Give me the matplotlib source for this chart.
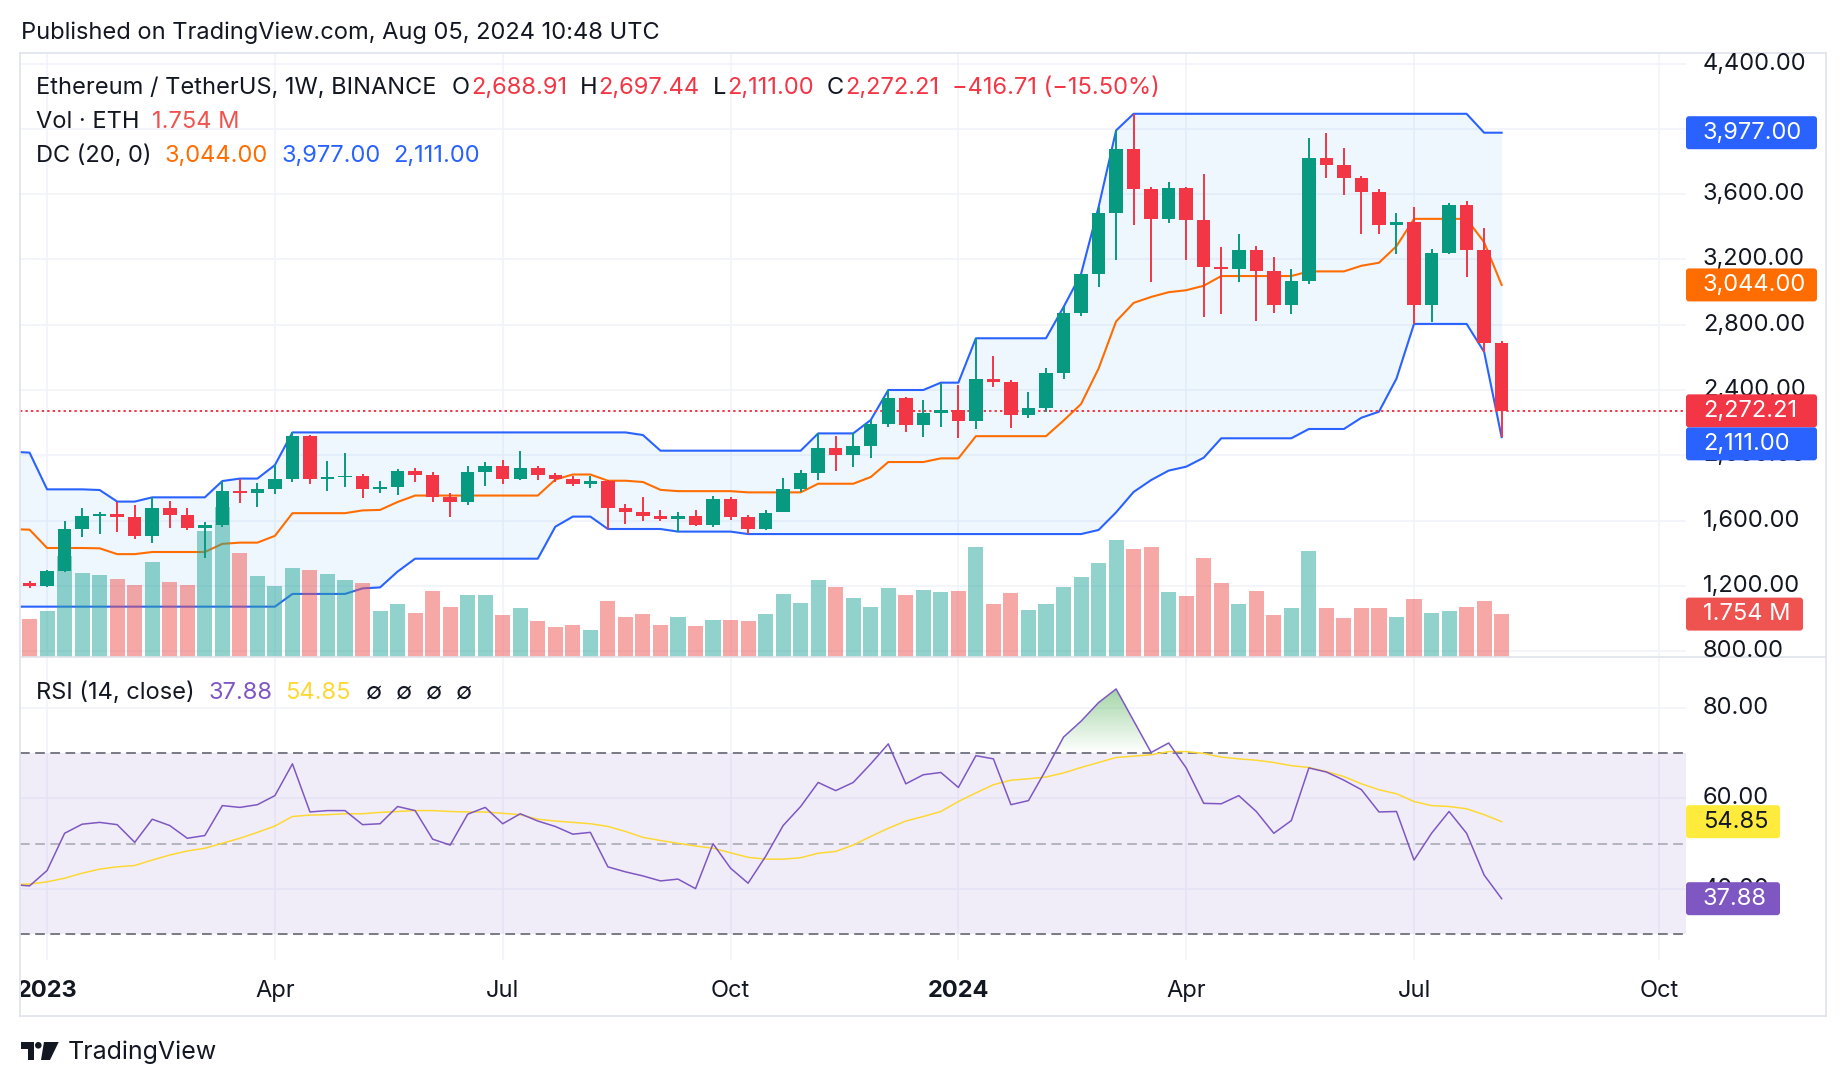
#! /usr/bin/env python3

import numpy as np
import pandas as pd
import matplotlib
matplotlib.use('Agg')
import matplotlib.pyplot as plt
from matplotlib import transforms
from matplotlib.patches import Polygon, Circle, FancyBboxPatch
from matplotlib.path import Path
from matplotlib.colors import LinearSegmentedColormap

# weekly ETH/USDT candles, first week 2022-12-19 (hidden left of the frame)
week_open = [1168, 1218, 1196, 1290, 1548, 1626, 1640, 1623, 1507, 1675, 1636, 1556, 1575, 1781, 1771, 1793,
             1854, 2118, 1856, 1868, 1872, 1793, 1804, 1905, 1881, 1746, 1715, 1897, 1936, 1854, 1922, 1879,
             1856, 1824, 1842, 1679, 1652, 1628, 1611, 1626, 1575, 1730, 1622, 1550, 1652, 1793, 1889, 2044,
             2004, 2057, 2192, 2351, 2187, 2257, 2275, 2212, 2467, 2449, 2247, 2288, 2502, 2875, 3108, 3486,
             3878, 3635, 3451, 3641, 3444, 3153, 3140, 3258, 3131, 2923, 3068, 3823, 3777, 3702, 3615, 3414,
             3431, 2923, 3241, 3534, 3258, 2688.91]
week_high = [1222, 1229, 1295, 1595, 1675, 1654, 1716, 1693, 1742, 1717, 1677, 1589, 1842, 1857, 1830, 1940,
             2140, 2124, 1965, 2016, 1885, 1840, 1914, 1924, 1899, 1767, 1934, 1958, 1971, 2028, 1936, 1891,
             1873, 1873, 1848, 1701, 1746, 1665, 1654, 1665, 1750, 1744, 1634, 1665, 1863, 1910, 2134, 2118,
             2134, 2216, 2400, 2355, 2339, 2445, 2431, 2717, 2608, 2461, 2388, 2533, 2908, 3111, 3521, 3991,
             4093, 3643, 3674, 3645, 3724, 3276, 3357, 3280, 3214, 3142, 3945, 3977, 3886, 3709, 3632, 3486,
             3521, 3265, 3545, 3556, 3396, 2697.44]
week_low = [1160, 1184, 1190, 1287, 1501, 1519, 1532, 1489, 1464, 1556, 1544, 1368, 1562, 1710, 1685, 1763,
            1838, 1824, 1783, 1803, 1736, 1766, 1756, 1838, 1715, 1624, 1695, 1814, 1824, 1846, 1848, 1834,
            1814, 1801, 1548, 1579, 1597, 1599, 1532, 1568, 1562, 1605, 1517, 1542, 1650, 1775, 1848, 1906,
            1930, 1985, 2175, 2145, 2114, 2175, 2104, 2161, 2416, 2169, 2230, 2267, 2470, 2853, 3033, 3199,
            3411, 3061, 3422, 3199, 2849, 2864, 3061, 2820, 2875, 2864, 3048, 3702, 3597, 3357, 3354, 3236,
            2805, 2816, 3232, 3090, 2634, 2111.00]
week_close = [1218, 1196, 1290, 1548, 1625, 1640, 1623, 1507, 1675, 1636, 1556, 1575, 1781, 1771, 1793, 1854,
              2118, 1856, 1868, 1872, 1793, 1804, 1905, 1881, 1746, 1715, 1897, 1936, 1854, 1922, 1879, 1856,
              1824, 1842, 1679, 1652, 1628, 1611, 1626, 1575, 1730, 1622, 1550, 1648, 1793, 1889, 2044, 2004,
              2057, 2192, 2351, 2187, 2257, 2275, 2212, 2467, 2449, 2247, 2288, 2502, 2875, 3108, 3486, 3878,
              3635, 3451, 3641, 3444, 3153, 3140, 3258, 3131, 2923, 3068, 3823, 3777, 3702, 3615, 3414, 3431,
              2923, 3241, 3534, 3258, 2688.92, 2272.21]
# volume in millions of ETH
volume = [1.50, 1.55, 1.88, 4.15, 3.45, 3.37, 3.20, 2.95, 3.90, 3.08, 2.95, 5.19, 6.18, 4.28, 3.33, 2.91,
          3.66, 3.57, 3.41, 3.16, 3.04, 1.88, 2.17, 1.80, 2.71, 2.04, 2.54, 2.54, 1.71, 2.00, 1.46, 1.22,
          1.30, 1.09, 2.29, 1.63, 1.75, 1.30, 1.63, 1.26, 1.51, 1.51, 1.46, 1.75, 2.58, 2.21, 3.16, 2.87,
          2.42, 2.04, 2.83, 2.54, 2.75, 2.66, 2.71, 4.53, 2.17, 2.62, 1.92, 2.17, 2.87, 3.28, 3.86, 4.82,
          4.45, 4.53, 2.66, 2.50, 4.07, 3.03, 2.17, 2.70, 1.72, 2.00, 4.36, 2.00, 1.59, 2.00, 2.00, 1.63,
          2.38, 1.79, 1.88, 2.04, 2.29, 1.754]
# Donchian channel (20) bands
dc_upper = [2022, 2016, 1791, 1791, 1791, 1787, 1716, 1716, 1742, 1742, 1742, 1742, 1842, 1857, 1857, 1940,
            2140, 2140, 2140, 2140, 2140, 2140, 2140, 2140, 2140, 2140, 2140, 2140, 2140, 2140, 2140, 2140,
            2140, 2140, 2140, 2140, 2124, 2028, 2028, 2028, 2028, 2028, 2028, 2028, 2028, 2028, 2134, 2134,
            2134, 2216, 2400, 2400, 2400, 2445, 2445, 2717, 2717, 2717, 2717, 2717, 2908, 3111, 3521, 3991,
            4093, 4093, 4093, 4093, 4093, 4093, 4093, 4093, 4093, 4093, 4093, 4093, 4093, 4093, 4093, 4093,
            4093, 4093, 4093, 4093, 3977, 3977]
dc_lower = [1072, 1072, 1072, 1072, 1072, 1072, 1072, 1072, 1072, 1072, 1072, 1072, 1072, 1072, 1072, 1072,
            1150, 1150, 1150, 1150, 1184, 1190, 1287, 1366, 1366, 1366, 1366, 1366, 1366, 1366, 1366, 1562,
            1624, 1624, 1548, 1548, 1548, 1548, 1532, 1532, 1532, 1532, 1517, 1517, 1517, 1517, 1517, 1517,
            1517, 1517, 1517, 1517, 1517, 1517, 1517, 1517, 1517, 1517, 1517, 1517, 1517, 1517, 1542, 1650,
            1775, 1848, 1906, 1930, 1985, 2104, 2104, 2104, 2104, 2104, 2161, 2161, 2161, 2230, 2267, 2470,
            2805, 2805, 2805, 2805, 2634, 2111]
rsi = [41.0, 40.7, 44.1, 52.3, 54.3, 54.7, 54.2, 50.3, 55.4, 54.0, 51.2, 51.8, 58.4, 58.0, 58.6, 60.6,
       67.6, 57.0, 57.3, 57.3, 54.2, 54.4, 58.2, 57.3, 51.0, 49.7, 56.5, 58.0, 54.4, 56.6, 55.0, 53.8,
       52.1, 52.5, 44.9, 43.8, 42.9, 41.8, 42.2, 40.1, 50.0, 44.6, 41.3, 47.2, 54.0, 58.2, 63.5, 61.7,
       63.5, 67.6, 72.0, 63.2, 65.2, 65.7, 62.4, 69.4, 68.7, 58.6, 59.5, 66.3, 73.5, 77.0, 81.1, 84.1,
       77.1, 70.1, 72.2, 66.7, 58.9, 58.8, 60.6, 57.1, 52.3, 55.1, 66.7, 65.8, 64.0, 61.9, 57.0, 57.1,
       46.4, 52.3, 57.1, 52.3, 43.1, 37.88]
rsi_ma = [41.0, 41.1, 41.6, 42.4, 43.5, 44.4, 44.9, 45.2, 46.4, 47.5, 48.4, 49.0, 50.1, 51.2, 52.5, 53.9,
          56.0, 56.3, 56.4, 56.6, 56.6, 56.9, 57.1, 57.3, 57.3, 57.1, 57.0, 57.0, 56.7, 56.4, 55.4, 55.0,
          54.7, 54.4, 53.8, 52.7, 51.4, 50.7, 50.1, 49.5, 49.0, 48.0, 47.0, 46.6, 46.6, 46.9, 47.9, 48.3,
          49.7, 51.6, 53.4, 55.0, 56.0, 57.1, 59.3, 61.2, 63.0, 64.0, 64.3, 64.7, 65.6, 66.8, 67.9, 69.0,
          69.3, 69.6, 70.3, 70.3, 69.9, 69.1, 68.7, 68.4, 67.9, 67.2, 66.8, 65.9, 64.8, 63.2, 61.9, 61.0,
          59.3, 58.4, 58.2, 57.7, 56.4, 54.85]

price_ticks = [800, 1200, 1600, 2000, 2400, 2800, 3200, 3600, 4000, 4400]
rsi_ticks = [40, 60, 80]
tick_months = ['2023-01', '2023-04', '2023-07', '2023-10', '2024-01', '2024-04', '2024-07', '2024-10']
tick_labels = ['2023', 'Apr', 'Jul', 'Oct', '2024', 'Apr', 'Jul', 'Oct']

GREEN, RED = '#089981', '#F23645'
BLUE, ORANGE = '#2962FF', '#FF6D00'
TXT = '#131722'
GRID = '#F0F3FA'
BORDER = '#E0E3EB'

plt.rcParams['font.family'] = ['Inter', 'DejaVu Sans']

W, H = 1846, 1086
PANE_L, PANE_R, SCALE_R = 20, 1686, 1826
PRICE_T, PRICE_B, RSI_B = 53, 656.5, 960
LABEL_X = 1703

fig = plt.figure(figsize=(W / 100, H / 100), dpi=100, facecolor='white')


def rect(l, t, r, b):
    return [l / W, 1 - b / H, (r - l) / W, (b - t) / H]


def fy(y):
    return 1 - y / H


o = np.array(week_open)
hi = np.array(week_high)
lo = np.array(week_low)
c = np.array(week_close)
vol = np.array(volume)
up_band = np.array(dc_upper)
lo_band = np.array(dc_lower)
basis = (up_band + lo_band) / 2
rsi = np.array(rsi)
rsi_ma = np.array(rsi_ma)

weeks = pd.date_range('2022-12-19', periods=len(o), freq='W-MON')
x = np.arange(len(weeks))
cal = pd.date_range(weeks[0], periods=110, freq='W-MON').strftime('%Y-%m')
tick_pos = [int(np.argmax(cal == m)) for m in tick_months]

XLIM = (0.454, 95.52)
PLIM = (766.5, 4465.6)
RLIM = (24.37, 91.26)

# three stacked axes on the price pane: channel / volume / candles
ax_dc = fig.add_axes(rect(PANE_L, PRICE_T, PANE_R, PRICE_B))
ax_v = fig.add_axes(rect(PANE_L, PRICE_T, PANE_R, PRICE_B))
ax_c = fig.add_axes(rect(PANE_L, PRICE_T, PANE_R, PRICE_B))
ax_r = fig.add_axes(rect(PANE_L, PRICE_B, PANE_R, RSI_B))
for a in (ax_dc, ax_v, ax_c, ax_r):
    a.set_facecolor('none')
    a.set_axis_off()
    a.set_xlim(*XLIM)
for a in (ax_dc, ax_c):
    a.set_ylim(*PLIM)
ax_v.set_ylim(0, 24.96)
ax_r.set_ylim(*RLIM)

# grid
for p in price_ticks:
    ax_dc.axhline(p, color=GRID, lw=1.1, zorder=0)
for r in rsi_ticks:
    ax_r.axhline(r, color=GRID, lw=1.1, zorder=0)
for t in tick_pos:
    ax_dc.axvline(t, color=GRID, lw=1.1, zorder=0)
    ax_r.axvline(t, color=GRID, lw=1.1, zorder=0)

# donchian channel
ax_dc.fill_between(x, lo_band, up_band, color='#2196F3', alpha=0.07, lw=0, zorder=1)
ax_dc.plot(x, up_band, color=BLUE, lw=1.5, zorder=2)
ax_dc.plot(x, lo_band, color=BLUE, lw=1.5, zorder=2)
ax_dc.plot(x, basis, color=ORANGE, lw=1.5, zorder=2)
ax_dc.axhline(c[-1], color=RED, lw=1.4, ls=(0, (1.2, 1.6)), zorder=3)

# volume
up = c >= o
vcol = np.where(up, '#26A69A80', '#EF535080')
ax_v.bar(x, vol, width=0.86, color=vcol, lw=0)

# candles
ccol = np.where(up, GREEN, RED)
ax_c.vlines(x, lo, hi, colors=ccol, lw=1.4)
ax_c.bar(x, c - o, bottom=o, width=0.77, color=ccol, lw=0)

# RSI pane
ax_r.axhspan(30, 70, color='#7E57C2', alpha=0.1, lw=0, zorder=0)
ax_r.axhline(70, color='#787B86', lw=1.4, ls=(0, (5, 2.8)), zorder=1)
ax_r.axhline(30, color='#787B86', lw=1.4, ls=(0, (5, 2.8)), zorder=1)
ax_r.axhline(50, color='#787B8680', lw=1.4, ls=(0, (5, 2.8)), zorder=1)
ob = ax_r.fill_between(x, 70, rsi, where=rsi >= 70, interpolate=True, facecolor='none', lw=0)
ob_path = Path.make_compound_path(*ob.get_paths())
green_cm = LinearSegmentedColormap.from_list('ob', [(0.298, 0.686, 0.314, 0.0), (0.298, 0.686, 0.314, 0.55)])
im = ax_r.imshow(np.linspace(0, 1, 256).reshape(-1, 1), extent=[XLIM[0], XLIM[1], 70, 85], origin='lower',
                 aspect='auto', cmap=green_cm, zorder=2)
im.set_clip_path(ob_path, transform=ax_r.transData)
ax_r.plot(x, rsi_ma, color='#FDD835', lw=1.1, zorder=3)
ax_r.plot(x, rsi, color='#7E57C2', lw=1.1, zorder=4)
ax_r.set_xlim(*XLIM)
ax_r.set_ylim(*RLIM)

# frame
for yy in (PRICE_T, PRICE_B, 1016):
    fig.add_artist(plt.Line2D([PANE_L / W, SCALE_R / W], [fy(yy), fy(yy)], color=BORDER, lw=1.2))
for xx in (PANE_L, SCALE_R):
    fig.add_artist(plt.Line2D([xx / W, xx / W], [fy(PRICE_T), fy(1016)], color=BORDER, lw=1.2))

# right scales
AX_FS = 17
price_clip = transforms.Bbox.from_extents(PANE_R, H - PRICE_B, SCALE_R, H - PRICE_T)
rsi_clip = transforms.Bbox.from_extents(PANE_R, H - RSI_B, SCALE_R, H - PRICE_B)
time_clip = transforms.Bbox.from_extents(PANE_L + 1, H - 1016, SCALE_R, H - RSI_B)


def y_px(ax, v):
    return H - ax.transData.transform((0, v))[1]


for p in price_ticks:
    t = fig.text(LABEL_X / W, fy(y_px(ax_dc, p)), f'{p:,.2f}', color=TXT, fontsize=AX_FS, va='center')
    t.set_clip_box(price_clip)
    t.set_clip_on(True)
for r in rsi_ticks:
    t = fig.text(LABEL_X / W, fy(y_px(ax_r, r)), f'{r:.2f}', color=TXT, fontsize=AX_FS, va='center')
    t.set_clip_box(rsi_clip)
    t.set_clip_on(True)


def value_box(yc, label, fc, tc, right):
    h = 33
    fig.add_artist(FancyBboxPatch((PANE_R, H - yc - h / 2), right - PANE_R, h,
                                  boxstyle='round,pad=0,rounding_size=3', fc=fc, ec='none',
                                  transform=transforms.IdentityTransform(), zorder=5))
    fig.text(LABEL_X / W, fy(yc), label, color=tc, fontsize=AX_FS, va='center', zorder=6)


boxes = [(up_band[-1], f'{up_band[-1]:,.2f}', BLUE), (basis[-1], f'{basis[-1]:,.2f}', ORANGE),
         (c[-1], f'{c[-1]:,.2f}', RED), (lo_band[-1], f'{lo_band[-1]:,.2f}', BLUE)]
prev_bottom = -1e9
for v, lab, col in boxes:
    yc = max(y_px(ax_dc, v), prev_bottom + 16.5)
    value_box(yc, lab, col, 'white', 1817)
    prev_bottom = yc + 16.5
value_box(y_px(ax_v, vol[-1]), f'{vol[-1]:.3f} M', '#EF5350', 'white', 1803)
value_box(y_px(ax_r, rsi_ma[-1]), f'{rsi_ma[-1]:.2f}', '#FFEB3B', TXT, 1780)
value_box(y_px(ax_r, rsi[-1]), f'{rsi[-1]:.2f}', '#7E57C2', 'white', 1780)

# time axis
for pos, lab in zip(tick_pos, tick_labels):
    t = fig.text(ax_r.transData.transform((pos, 0))[0] / W, fy(997), lab, color=TXT, fontsize=17,
                 ha='center', va='baseline', fontweight='bold' if lab.isdigit() else 'normal')
    t.set_clip_box(time_clip)
    t.set_clip_on(True)

# legends
renderer = fig.canvas.get_renderer()


def parts(x0, base, items, size):
    xx = x0
    for s, col, gap in items:
        t = fig.text(xx / W, fy(base), s, color=col, fontsize=size, va='baseline')
        xx += t.get_window_extent(renderer).width + gap


LG = 17
chg = c[-1] - c[-2]
parts(36.5, 94, [('Ethereum / TetherUS, 1W, BINANCE', TXT, 15),
                 ('O', TXT, 1), (f'{o[-1]:,.2f}', RED, 13),
                 ('H', TXT, 1), (f'{hi[-1]:,.2f}', RED, 13),
                 ('L', TXT, 1), (f'{lo[-1]:,.2f}', RED, 13),
                 ('C', TXT, 1), (f'{c[-1]:,.2f}', RED, 13),
                 (f'{chg:,.2f} ({chg / c[-2] * 100:.2f}%)'.replace('-', '\u2212'), RED, 0)], LG)
parts(36.5, 128, [('Vol \u00b7 ETH', TXT, 12), (f'{vol[-1]:.3f} M', '#EF5350', 0)], LG)
parts(36.5, 162, [('DC (20, 0)', TXT, 13), (f'{basis[-1]:,.2f}', ORANGE, 13),
                  (f'{up_band[-1]:,.2f}', BLUE, 13), (f'{lo_band[-1]:,.2f}', BLUE, 0)], LG)
parts(36.5, 699, [('RSI (14, close)', TXT, 13), (f'{rsi[-1]:.2f}', '#7E57C2', 13),
                  (f'{rsi_ma[-1]:.2f}', '#FDD835', 15),
                  ('\u2205', TXT, 14), ('\u2205', TXT, 14), ('\u2205', TXT, 14), ('\u2205', TXT, 0)], LG)

fig.text(21 / W, fy(38.5), 'Published on TradingView.com, Aug 05, 2024 10:48 UTC', color=TXT,
         fontsize=17, va='baseline')

# footer logo + wordmark
logo_T = [(20.5, 1042), (34, 1042), (34, 1060), (27.5, 1060), (27.5, 1048.5), (20.5, 1048.5)]
logo_S = [(44, 1042), (58.7, 1042), (50, 1060), (41, 1060)]
for poly in (logo_T, logo_S):
    fig.add_artist(Polygon([(px / W, fy(py)) for px, py in poly], closed=True, fc=TXT, ec='none',
                           transform=fig.transFigure))
fig.add_artist(Circle((38.3, H - 1045.3), 3.3, fc=TXT, ec='none', transform=transforms.IdentityTransform()))
fig.text(67.5 / W, fy(1059.5), 'TradingView', color=TXT, fontsize=18, va='baseline')

plt.savefig('out.png', dpi=100, facecolor='white')
